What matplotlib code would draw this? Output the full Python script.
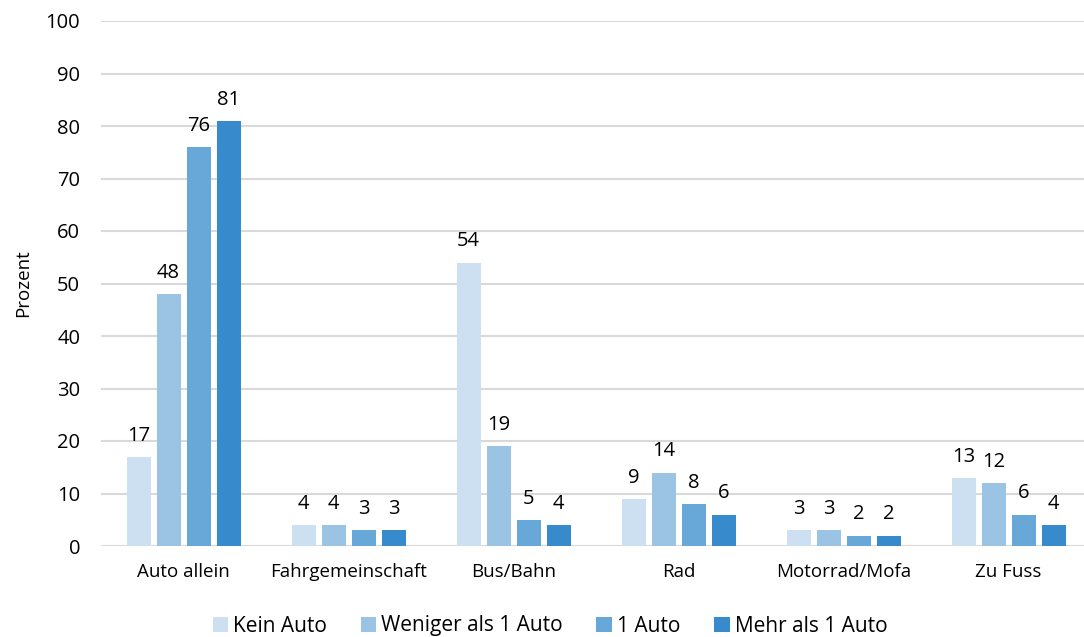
import matplotlib
matplotlib.use("Agg")
import matplotlib.pyplot as plt
import numpy as np

categories = ["Auto allein", "Fahrgemeinschaft", "Bus/Bahn", "Rad", "Motorrad/Mofa", "Zu Fuss"]
series_names = ["Kein Auto", "Weniger als 1 Auto", "1 Auto", "Mehr als 1 Auto"]
kein_auto = [17, 4, 54, 9, 3, 13]
weniger_1 = [48, 4, 19, 14, 3, 12]
ein_auto = [76, 3, 5, 8, 2, 6]
mehr_1 = [81, 3, 4, 6, 2, 4]
colors = ["#CCE0F1", "#9BC4E4", "#68A8D9", "#378ACC"]
yticks = [0, 10, 20, 30, 40, 50, 60, 70, 80, 90, 100]

plt.rcParams['font.family'] = ['Open Sans', 'DejaVu Sans']

fig = plt.figure(figsize=(10.84, 6.37), dpi=100)
ax = fig.add_axes([101/1084, 1-546/637, 990/1084, 525/637])

series = [kein_auto, weniger_1, ein_auto, mehr_1]
x = np.arange(len(categories))
step = 30/165
width = 24/165
for i, (vals, name, c) in enumerate(zip(series, series_names, colors)):
    pos = x + (i - 1.5) * step
    ax.bar(pos, vals, width=width, color=c, label=name, zorder=3)
    for p, v in zip(pos, vals):
        ax.annotate(str(v), (p, v), xytext=(0, 8), textcoords="offset points",
                    ha="center", va="bottom", fontsize=14.5, color="#000000")

ax.set_xlim(-0.5, len(categories) - 0.5)
ax.set_ylim(0, 100)
ax.set_yticks(yticks)
ax.set_xticks(x)
ax.set_xticklabels(categories, fontsize=13.5)
ax.tick_params(axis='y', labelsize=14.5, length=0, pad=15)
ax.tick_params(axis='x', length=0, pad=12)
ax.yaxis.grid(True, color="#D9D9D9", linewidth=1.5, zorder=0)
ax.set_axisbelow(True)
for s in ax.spines.values():
    s.set_visible(False)
ax.set_ylabel("Prozent", fontsize=13.5, labelpad=10)

ax.legend(loc="center", bbox_to_anchor=(550/1084, 1-626/637), bbox_transform=fig.transFigure,
          ncol=4, frameon=False, fontsize=15, handlelength=0.75, handleheight=0.75,
          handletextpad=0.25, columnspacing=1.6, borderaxespad=0.0, borderpad=0.0)

fig.savefig("out.png", dpi=100)
